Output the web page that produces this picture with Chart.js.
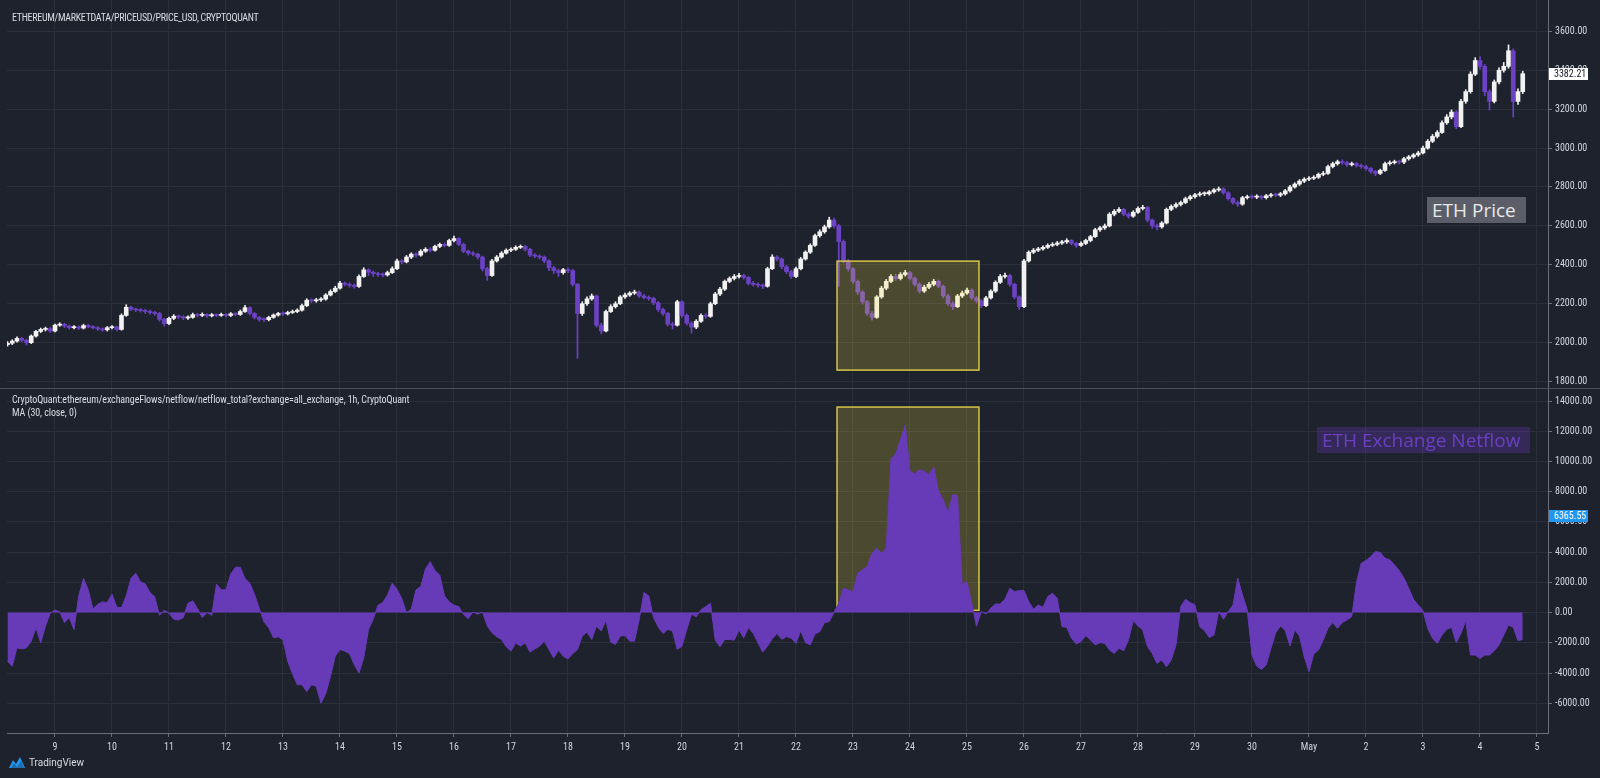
<!DOCTYPE html>
<html>
<head>
<meta charset="utf-8">
<title>ETH price vs exchange netflow</title>
<script src="https://cdn.jsdelivr.net/npm/chart.js@4.4.1/dist/chart.umd.min.js"></script>
<style>
    body { margin: 0; width: 1600px; height: 778px; overflow: hidden; position: relative; background: #1e222d; }
    canvas { position: absolute; left: 0; }
    #priceChart { top: 0; }
    #flowChart { top: 389px; }
    .sep { position: absolute; left: 0; top: 388px; width: 1600px; height: 1px; background: #4a4e59; }
    .legend { position: absolute; left: 12px; color: #d8dbe2; font: 10px "Liberation Sans Narrow", "Roboto Condensed", Roboto, sans-serif; white-space: nowrap; line-height: 13px; letter-spacing: -0.1px; }
    .badge { position: absolute; height: 26px; line-height: 26px; padding-left: 5px; box-sizing: border-box; font: 19px "Open Sans", sans-serif; white-space: nowrap; }
    #priceBadge { left: 1427px; top: 197px; width: 99px; background: #5b5e69; color: #e8e8ea; }
    #flowBadge { left: 1317px; top: 427px; width: 213px; background: rgba(103, 58, 183, 0.31); color: #6a40c0; }
    .logo { position: absolute; left: 8px; top: 756px; display: flex; align-items: center; gap: 3px; color: #d8dbe2; font: 10px "Liberation Sans Narrow", Roboto, sans-serif; }
</style>
</head>
<body>
<canvas id="priceChart" width="1600" height="388"></canvas>
<div class="sep"></div>
<canvas id="flowChart" width="1600" height="389"></canvas>

<div class="legend" style="top:11px; letter-spacing:-0.3px">ETHEREUM/MARKETDATA/PRICEUSD/PRICE_USD, CRYPTOQUANT</div>
<div class="legend" style="top:393px">CryptoQuant:ethereum/exchangeFlows/netflow/netflow_total?exchange=all_exchange, 1h, CryptoQuant<br>MA (30, close, 0)</div>
<div class="badge" id="priceBadge">ETH Price</div>
<div class="badge" id="flowBadge">ETH Exchange Netflow</div>
<div class="logo">
    <svg width="18" height="13" viewBox="0 0 18 13"><path d="M1 12 L5 4 L8 8 L12 1 L17 12 Z" fill="#2196f3"/><path d="M3 12 L6 7 L9 11 L13 5 L16 12 Z" fill="#1e222d" opacity="0.35"/></svg>
    <span>TradingView</span>
</div>

<script>
// ETH price (2h candles) and exchange netflow, Apr 8 - May 4

const startDay = 8 + 4 / 24;   // first bar: Apr 8, 04:00 (days counted from Apr 0)
const stepDays = 2 / 24;       // one bar every 2 hours

const dayTicks = [9, 10, 11, 12, 13, 14, 15, 16, 17, 18, 19, 20, 21, 22, 23, 24, 25, 26, 27, 28, 29, 30, 31, 32, 33, 34, 35];
const dayLabels = ["9", "10", "11", "12", "13", "14", "15", "16", "17", "18", "19", "20", "21", "22", "23", "24", "25", "26", "27", "28", "29", "30", "May", "2", "3", "4", "5"];

const priceTicks = [1800, 2000, 2200, 2400, 2600, 2800, 3000, 3200, 3400, 3600];
const flowTicks = [-6000, -4000, -2000, 0, 2000, 4000, 6000, 8000, 10000, 12000, 14000];

const firstOpen = 1990;
const priceClose = [
    1997, 2008, 2022, 2012, 2000, 2034, 2058, 2068, 2072, 2060,
    2090, 2094, 2085, 2077, 2080, 2075, 2088, 2082, 2077, 2070, 2066, 2077,
    2080, 2068, 2140, 2182, 2172, 2168, 2165, 2160, 2155, 2150, 2120, 2098,
    2125, 2136, 2132, 2127, 2130, 2144, 2140, 2145, 2138, 2142, 2140, 2145,
    2140, 2148, 2145, 2160, 2180, 2150, 2130, 2120, 2118, 2130, 2142, 2150,
    2148, 2155, 2160, 2167, 2190, 2218, 2215, 2220, 2224, 2245, 2263, 2280,
    2306, 2300, 2295, 2289, 2340, 2374, 2362, 2355, 2350, 2348, 2360, 2380,
    2420, 2415, 2440, 2455, 2450, 2470, 2480, 2475, 2495, 2505, 2500, 2525,
    2535, 2505, 2470, 2460, 2455, 2440, 2380, 2345, 2420, 2440, 2460, 2475,
    2480, 2490, 2495, 2480, 2450, 2445, 2440, 2420, 2385, 2370, 2360, 2375,
    2370, 2300, 2150, 2200, 2225, 2240, 2090, 2060, 2160, 2185, 2200, 2235,
    2245, 2255, 2260, 2240, 2232, 2228, 2205, 2170, 2150, 2095, 2090, 2210,
    2140, 2100, 2080, 2110, 2140, 2135, 2200, 2250, 2275, 2315, 2330, 2340,
    2345, 2335, 2305, 2300, 2295, 2290, 2380, 2440, 2430, 2390, 2365, 2340,
    2380, 2430, 2465, 2500, 2550, 2570, 2595, 2630, 2600, 2520, 2420, 2380,
    2315, 2260, 2210, 2150, 2130, 2235, 2280, 2315, 2340, 2330, 2350, 2360,
    2330, 2300, 2265, 2285, 2300, 2315, 2290, 2240, 2200, 2185, 2240, 2255,
    2270, 2230, 2215, 2190, 2230, 2265, 2310, 2340, 2345, 2300, 2235, 2185,
    2420, 2465, 2475, 2482, 2490, 2500, 2505, 2512, 2518, 2525, 2510, 2500,
    2510, 2525, 2545, 2580, 2590, 2600, 2660, 2675, 2685, 2660, 2650, 2670,
    2690, 2695, 2630, 2600, 2595, 2615, 2685, 2700, 2710, 2720, 2740, 2750,
    2760, 2765, 2765, 2775, 2785, 2790, 2770, 2740, 2720, 2712, 2745, 2750,
    2748, 2752, 2745, 2755, 2760, 2758, 2765, 2780, 2800, 2815, 2830, 2840,
    2845, 2850, 2865, 2870, 2905, 2920, 2930, 2925, 2915, 2920, 2910, 2905,
    2895, 2880, 2870, 2885, 2920, 2925, 2930, 2928, 2945, 2955, 2965, 2975,
    3000, 3035, 3060, 3080, 3130, 3160, 3185, 3110, 3240, 3290, 3380, 3450,
    3420, 3290, 3240, 3340, 3400, 3420, 3500, 3240, 3290, 3382.21
];
const priceHigh = [
    2005, 2015, 2030, 2028, 2018, 2040, 2064, 2075, 2080, 2078,
    2096, 2102, 2100, 2090, 2088, 2086, 2095, 2094, 2088, 2082, 2076, 2083,
    2088, 2085, 2148, 2195, 2188, 2178, 2175, 2172, 2168, 2162, 2156, 2126,
    2132, 2144, 2142, 2138, 2138, 2152, 2150, 2153, 2150, 2150, 2148, 2152,
    2150, 2155, 2154, 2168, 2192, 2185, 2155, 2135, 2128, 2136, 2148, 2156,
    2158, 2162, 2168, 2174, 2198, 2226, 2225, 2228, 2232, 2252, 2272, 2290,
    2315, 2312, 2308, 2302, 2348, 2385, 2380, 2368, 2362, 2358, 2368, 2390,
    2430, 2428, 2448, 2462, 2462, 2478, 2488, 2488, 2502, 2512, 2512, 2532,
    2548, 2540, 2512, 2476, 2468, 2460, 2445, 2388, 2428, 2448, 2468, 2482,
    2488, 2498, 2502, 2500, 2485, 2458, 2452, 2446, 2426, 2392, 2378, 2382,
    2385, 2376, 2305, 2210, 2235, 2250, 2245, 2100, 2168, 2195, 2210, 2242,
    2255, 2262, 2270, 2266, 2248, 2240, 2234, 2212, 2178, 2156, 2105, 2218,
    2215, 2148, 2108, 2118, 2148, 2150, 2208, 2258, 2285, 2322, 2338, 2350,
    2356, 2352, 2340, 2315, 2308, 2302, 2388, 2452, 2448, 2436, 2398, 2372,
    2388, 2438, 2472, 2508, 2558, 2580, 2604, 2645, 2640, 2608, 2528, 2428,
    2386, 2322, 2268, 2218, 2160, 2242, 2290, 2325, 2350, 2352, 2360, 2372,
    2366, 2338, 2308, 2295, 2310, 2325, 2322, 2296, 2248, 2210, 2248, 2265,
    2280, 2276, 2238, 2222, 2238, 2272, 2318, 2350, 2358, 2352, 2306, 2240,
    2428, 2472, 2484, 2490, 2498, 2508, 2514, 2520, 2526, 2534, 2530, 2516,
    2518, 2532, 2552, 2588, 2598, 2610, 2668, 2684, 2694, 2690, 2668, 2678,
    2698, 2706, 2700, 2636, 2610, 2622, 2692, 2708, 2718, 2728, 2748, 2758,
    2768, 2774, 2775, 2782, 2792, 2800, 2796, 2776, 2746, 2728, 2752, 2758,
    2758, 2760, 2758, 2762, 2768, 2768, 2772, 2788, 2808, 2822, 2838, 2848,
    2854, 2858, 2872, 2880, 2912, 2928, 2938, 2940, 2932, 2928, 2926, 2918,
    2912, 2900, 2886, 2892, 2928, 2934, 2938, 2938, 2952, 2962, 2972, 2984,
    3010, 3044, 3070, 3090, 3140, 3172, 3196, 3192, 3250, 3300, 3392, 3465,
    3470, 3430, 3300, 3350, 3412, 3440, 3530, 3510, 3305, 3395
];
const priceLow = [
    1982, 1990, 2002, 2005, 1988, 1995, 2028, 2052, 2060, 2052,
    2055, 2084, 2078, 2070, 2071, 2068, 2070, 2076, 2070, 2063, 2058, 2060,
    2070, 2060, 2064, 2135, 2165, 2160, 2157, 2150, 2146, 2140, 2110, 2085,
    2092, 2118, 2124, 2118, 2120, 2125, 2132, 2134, 2130, 2132, 2133, 2135,
    2132, 2134, 2138, 2140, 2155, 2142, 2122, 2110, 2108, 2112, 2125, 2136,
    2140, 2142, 2150, 2154, 2162, 2185, 2205, 2208, 2212, 2218, 2240, 2258,
    2275, 2292, 2285, 2280, 2284, 2335, 2345, 2340, 2340, 2338, 2342, 2355,
    2375, 2405, 2410, 2432, 2440, 2444, 2464, 2466, 2470, 2488, 2492, 2495,
    2518, 2498, 2462, 2450, 2446, 2430, 2368, 2320, 2340, 2414, 2434, 2455,
    2468, 2474, 2484, 2472, 2442, 2436, 2430, 2410, 2370, 2355, 2340, 2352,
    2360, 2290, 1920, 2140, 2192, 2218, 2080, 2045, 2055, 2155, 2178, 2195,
    2228, 2238, 2248, 2232, 2225, 2218, 2195, 2160, 2140, 2085, 2070, 2085,
    2130, 2090, 2050, 2072, 2104, 2125, 2130, 2195, 2242, 2268, 2308, 2322,
    2332, 2326, 2296, 2290, 2285, 2278, 2285, 2375, 2420, 2380, 2355, 2330,
    2334, 2374, 2424, 2458, 2494, 2542, 2562, 2588, 2590, 2290, 2410, 2368,
    2305, 2248, 2198, 2140, 2115, 2125, 2228, 2272, 2308, 2320, 2322, 2342,
    2322, 2290, 2255, 2258, 2278, 2292, 2282, 2230, 2190, 2170, 2180, 2232,
    2248, 2222, 2205, 2180, 2185, 2224, 2258, 2304, 2332, 2290, 2225, 2170,
    2180, 2414, 2458, 2468, 2475, 2484, 2494, 2498, 2505, 2510, 2502, 2490,
    2494, 2504, 2518, 2540, 2572, 2582, 2595, 2652, 2668, 2652, 2640, 2644,
    2664, 2682, 2620, 2588, 2580, 2588, 2610, 2678, 2692, 2702, 2714, 2732,
    2742, 2752, 2755, 2758, 2768, 2778, 2762, 2732, 2712, 2700, 2706, 2738,
    2740, 2740, 2736, 2738, 2748, 2750, 2750, 2758, 2774, 2794, 2808, 2822,
    2832, 2838, 2844, 2858, 2864, 2898, 2912, 2916, 2906, 2908, 2902, 2896,
    2886, 2870, 2858, 2864, 2880, 2912, 2918, 2918, 2920, 2938, 2948, 2958,
    2970, 2994, 3028, 3052, 3075, 3122, 3150, 3100, 3105, 3230, 3282, 3372,
    3405, 3270, 3195, 3232, 3330, 3390, 3410, 3160, 3225, 3280
];

const netflow = [
    -3220, -3550, -2330, -2400, -2330, -1890, -1000, -2000, -890, -40,
    180, 40, -670, -330, -1110, 1110, 2260, 1510, 220, 550,
    710, 670, 1220, 360, 330, 1110, 2260, 2600, 2040, 1890,
    1330, 1040, -180, 160, -40, -440, -490, -330, 620, 780,
    270, -330, 0, -180, 1890, 1510, 1510, 2550, 3000, 3000,
    2260, 1950, 1220, 270, -620, -1000, -1670, -1600, -1820, -3220,
    -4040, -4770, -4770, -5220, -4770, -4880, -5990, -5370, -4220, -2890,
    -2440, -2550, -2710, -3440, -4000, -3000, -1110, -440, 490, 670,
    1150, 1950, 1550, 930, 0, 220, 1510, 1730, 2890, 3370,
    2780, 2490, 1110, 710, 490, 400, -110, -400, 40, -110,
    40, -890, -1330, -1600, -1780, -2260, -2550, -2000, -2220, -2000,
    -2620, -2400, -2220, -1890, -2440, -3000, -2490, -2890, -3060, -2710,
    -2440, -1550, -1290, -1780, -890, -1220, -510, -1950, -2110, -1550,
    -1510, -1890, -1890, -440, 1330, 1110, -330, -950, -1380, -1110,
    -1220, -2440, -2220, -1110, -110, -270, 180, 400, 620, -1820,
    -2260, -1780, -1780, -1820, -1150, -1670, -1000, -1380, -2000, -2620,
    -2220, -1730, -1380, -1770, -1590, -1700, -2030, -1190, -1990, -2140,
    -1410, -1260, -660, -600, 20, 620, 1610, 1500, 1390, 2610,
    2830, 3050, 3930, 4240, 3930, 4270, 10170, 10500, 11450, 12400,
    9350, 9190, 9460, 9350, 9130, 9640, 8020, 7470, 6630, 7800,
    7740, 1830, 2060, 620, -900, 70, -90, 290, 570, 570,
    880, 1610, 1390, 1460, 1460, 730, 220, 510, 350, 1060,
    1280, 950, -930, -970, -1700, -2080, -1920, -1520, -1810, -2140,
    -1990, -2030, -2480, -2700, -2360, -2520, -1810, -530, -880, -1150,
    -2250, -2700, -3360, -3140, -3580, -3140, -2140, 400, 880, 660,
    510, -930, -1190, -1640, -1480, 70, -440, 70, 510, 2280,
    1170, 180, -2810, -3540, -3760, -3470, -2360, -1330, -880, -1190,
    -2210, -1150, -1550, -2920, -3910, -2740, -2480, -1810, -1040, -660,
    -1040, -660, -490, -270, 1990, 3270, 3450, 3710, 4040, 3980,
    3600, 3490, 3160, 2780, 2280, 1610, 880, 510, 130, -1040,
    -1700, -2030, -1480, -1110, -970, -1990, -1370, -530, -2810, -2810,
    -3030, -2810, -2810, -2520, -2140, -1480, -820, -970, -1860, -1770
];

const lastPrice = 3382.21;
const flowMarker = 6365.55;

// yellow highlight: Apr 22 ~17:00 to Apr 25 ~05:00
const highlightDays = [22.72, 25.21];
const highlightPrice = [1859, 2419];
const highlightFlow = [150, 13600];

/* ---------- Styling ---------- */

const GRID = "#2b2f3a";
const AXIS = "#6b6e78";
const TEXT = "#d1d4dc";
const UP = "#f2f2f2";
const DOWN = "#6c42c4";
const FLOW = "#673ab7";
const FONT = { family: '"Liberation Sans Narrow", "Roboto Condensed", Roboto, sans-serif', size: 10 };

Chart.defaults.font.family = FONT.family;
Chart.defaults.color = TEXT;

const xMin = 8.158;
const xMax = 35.193;

const priceOpen = priceClose.map((c, i) => i === 0 ? firstOpen : priceClose[i - 1]);
const dayOf = i => startDay + i * stepDays;
const candleColor = ctx => priceClose[ctx.dataIndex] >= priceOpen[ctx.dataIndex] ? UP : DOWN;

/* ---------- Plugins ---------- */

function drawHighlight(chart, range) {
    const { ctx, scales } = chart;
    const left = scales.x.getPixelForValue(highlightDays[0]);
    const right = scales.x.getPixelForValue(highlightDays[1]);
    const top = scales.y.getPixelForValue(range[1]);
    const bottom = scales.y.getPixelForValue(range[0]);
    ctx.save();
    ctx.fillStyle = "rgba(255, 235, 59, 0.2)";
    ctx.fillRect(left, top, right - left, bottom - top);
    ctx.strokeStyle = "#d6c64a";
    ctx.lineWidth = 1.5;
    ctx.strokeRect(left, top, right - left, bottom - top);
    ctx.restore();
}

const highlightPlugin = {
    id: "highlight",
    beforeDatasetsDraw(chart, args, opts) {
        if (opts.under) drawHighlight(chart, opts.range);
    },
    afterDatasetsDraw(chart, args, opts) {
        if (!opts.under) drawHighlight(chart, opts.range);
    }
};

const tagPlugin = {
    id: "tag",
    afterDraw(chart, args, opts) {
        const { ctx } = chart;
        const y = chart.scales.y;
        const py = Math.round(y.getPixelForValue(opts.value));
        ctx.save();
        ctx.fillStyle = opts.bg;
        ctx.fillRect(y.left + 1, py - 6, 39, 12);
        ctx.fillStyle = opts.fg;
        ctx.font = `${FONT.size}px ${FONT.family}`;
        ctx.textBaseline = "middle";
        ctx.fillText(opts.value.toFixed(2), y.left + 6, py + 0.5);
        ctx.restore();
    }
};

/* ---------- Shared axis pieces ---------- */

function dayAxis(showLabels) {
    return {
        type: "linear",
        min: xMin,
        max: xMax,
        offset: false,
        afterBuildTicks: s => { s.ticks = dayTicks.map(v => ({ value: v })); },
        afterFit: s => {
            s.height = showLabels ? 45 : 0;
            s.paddingLeft = 0;
            s.paddingRight = 0;
        },
        grid: { color: GRID, offset: false, drawTicks: showLabels, tickLength: 4, tickColor: AXIS },
        border: { display: showLabels, color: AXIS },
        ticks: {
            display: showLabels,
            padding: 4,
            color: TEXT,
            font: FONT,
            maxRotation: 0,
            autoSkip: false,
            callback: (v, i) => dayLabels[i]
        }
    };
}

function valueAxis(min, max, tickValues) {
    return {
        position: "right",
        min,
        max,
        afterBuildTicks: s => { s.ticks = tickValues.map(v => ({ value: v })); },
        afterFit: s => {
            s.width = 52;
            s.paddingTop = 0;
            s.paddingBottom = 0;
        },
        grid: { color: GRID, tickLength: 4, tickColor: AXIS },
        border: { color: AXIS },
        ticks: { padding: 3, color: TEXT, font: FONT, callback: v => v.toFixed(2) }
    };
}

/* ---------- Price (candles) ---------- */

new Chart(document.getElementById("priceChart"), {
    type: "bar",
    data: {
        datasets: [
            {
                label: "wick",
                data: priceClose.map((c, i) => ({ x: dayOf(i), y: [priceLow[i], priceHigh[i]] })),
                backgroundColor: candleColor,
                barThickness: 1,
                grouped: false,
                order: 2
            },
            {
                label: "body",
                data: priceClose.map((c, i) => ({ x: dayOf(i), y: [priceOpen[i], c] })),
                backgroundColor: candleColor,
                barThickness: 4,
                minBarLength: 1,
                grouped: false,
                order: 1
            }
        ]
    },
    options: {
        responsive: false,
        animation: false,
        events: [],
        layout: { padding: { left: 7, top: 0, right: 0, bottom: 0 } },
        scales: {
            x: dayAxis(false),
            y: valueAxis(1767, 3761, priceTicks)
        },
        plugins: {
            legend: { display: false },
            tooltip: { enabled: false },
            highlight: { range: highlightPrice, under: false },
            tag: { value: lastPrice, bg: "#ffffff", fg: "#131722" }
        }
    },
    plugins: [highlightPlugin, tagPlugin]
});

/* ---------- Netflow (area) ---------- */

new Chart(document.getElementById("flowChart"), {
    type: "line",
    data: {
        datasets: [{
            label: "netflow",
            data: netflow.map((v, i) => ({ x: dayOf(i), y: v })),
            borderColor: FLOW,
            backgroundColor: FLOW,
            borderWidth: 1,
            pointRadius: 0,
            fill: "origin",
            tension: 0
        }]
    },
    options: {
        responsive: false,
        animation: false,
        events: [],
        layout: { padding: { left: 7, top: 0, right: 0, bottom: 0 } },
        scales: {
            x: dayAxis(true),
            y: valueAxis(-7965, 14794, flowTicks)
        },
        plugins: {
            legend: { display: false },
            tooltip: { enabled: false },
            highlight: { range: highlightFlow, under: true },
            tag: { value: flowMarker, bg: "#2196f3", fg: "#ffffff" }
        }
    },
    plugins: [highlightPlugin, tagPlugin]
});
</script>
</body>
</html>
